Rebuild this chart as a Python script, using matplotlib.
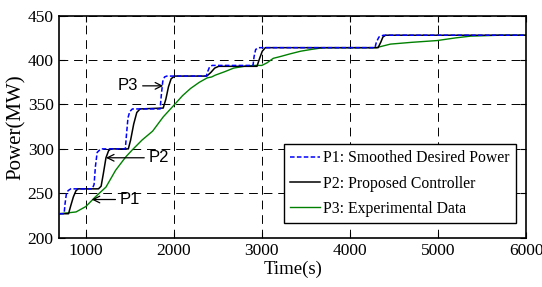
import matplotlib.pyplot as plt

# P1: smoothed desired power (blue dashed)
t_p1 = [700, 755, 765, 780, 800, 830, 1075, 1095, 1110, 1130, 1170, 1450, 1462, 1480,
        1500, 1530, 1845, 1858, 1875, 1895, 1920, 2370, 2385, 2405, 2435, 2900, 2912,
        2930, 2965, 4285, 4300, 4330, 4380, 6000]
p_p1 = [227, 227, 238, 249, 253, 255, 255, 260, 280, 296, 300, 300, 315, 335,
        342, 345, 345, 360, 376, 381, 382, 382, 387, 392, 394, 394, 404,
        412, 414, 414, 420, 426, 428, 428]

# P2: proposed controller (black)
t_p2 = [700, 805, 830, 860, 890, 915, 1145, 1175, 1200, 1230, 1260, 1285, 1484, 1510,
        1545, 1580, 1617, 1880, 1910, 1940, 1970, 2010, 2375, 2420, 2465, 2510, 2945,
        2975, 3005, 3040, 4320, 4350, 4375, 4405, 6000]
p_p2 = [227, 227, 236, 246, 253, 255, 255, 258, 272, 290, 298, 300, 300, 310,
        328, 341, 345, 346, 356, 370, 379, 382, 382, 386, 391, 393, 393,
        402, 410, 414, 414, 420, 426, 428, 428]

# P3: experimental data (green)
t_p3 = [700, 800, 890, 1000, 1110, 1230, 1340, 1455, 1530, 1640, 1760, 1880, 2000, 2100,
        2190, 2290, 2380, 2430, 2470, 2580, 2680, 2800, 2905, 3000, 3060, 3130, 3210, 3320,
        3440, 3560, 3700, 4000, 4300, 4460, 4700, 4990, 5200, 5370, 5700, 6000]
p_p3 = [227, 228, 229, 235, 246, 257, 276, 291, 299, 310, 320, 336, 349, 360,
        368, 375, 380, 381, 383, 387, 391, 393, 394, 394, 397, 402, 404, 407,
        410, 412, 414, 414, 414, 418, 420, 422, 425, 427, 428, 428]

xticks = [1000, 2000, 3000, 4000, 5000, 6000]
yticks = [200, 250, 300, 350, 400, 450]

plt.rcParams['font.family'] = ['Liberation Serif', 'DejaVu Serif']

fig = plt.figure(figsize=(5.42, 2.87), dpi=100)
ax = fig.add_axes([0.1094, 0.1718, 0.8611, 0.7735])

ax.plot(t_p1, p_p1, color='#0000ff', lw=1.1, ls=(0, (3, 1.5)), label='P1: Smoothed Desired Power', zorder=4)
ax.plot(t_p2, p_p2, color='black', lw=1.1, label='P2: Proposed Controller', zorder=3)
ax.plot(t_p3, p_p3, color='#008000', lw=1.0, label='P3: Experimental Data', zorder=2)

ax.set_xlim(700, 6000)
ax.set_ylim(200, 450)
ax.set_xticks(xticks)
ax.set_yticks(yticks)
ax.tick_params(direction='in', top=True, right=True, length=4, width=0.8, labelsize=12.5, pad=4)
ax.grid(True, color='black', lw=0.7, ls=(0, (9, 6)))
for s in ax.spines.values():
    s.set_linewidth(1.2)

ax.set_xlabel('Time(s)', fontsize=13.5, labelpad=1)
ax.set_ylabel('Power(MW)', fontsize=15, labelpad=1)

arrow = dict(arrowstyle='->', color='black', lw=0.9, shrinkA=1, shrinkB=0)
ann = dict(fontsize=12, family=['Liberation Sans', 'DejaVu Sans'], ha='left', va='center')
ax.annotate('P1', xy=(1068, 243), xytext=(1385, 243), arrowprops=arrow, **ann)
ax.annotate('P2', xy=(1230, 290), xytext=(1712, 290), arrowprops=arrow, **ann)
ax.annotate('P3', xy=(1880, 371), xytext=(1368, 371), arrowprops=arrow,
            fontsize=12, family=['Liberation Sans', 'DejaVu Sans'], ha='left', va='center')

leg = ax.legend(loc='lower right', bbox_to_anchor=(0.9786, 0.065), borderaxespad=0,
                fontsize=11.3, handlelength=1.9, handletextpad=0.2, labelspacing=0.6,
                borderpad=0.4, fancybox=False, framealpha=1, edgecolor='black')
leg.get_frame().set_linewidth(1.0)

fig.savefig('out.png', dpi=100)
